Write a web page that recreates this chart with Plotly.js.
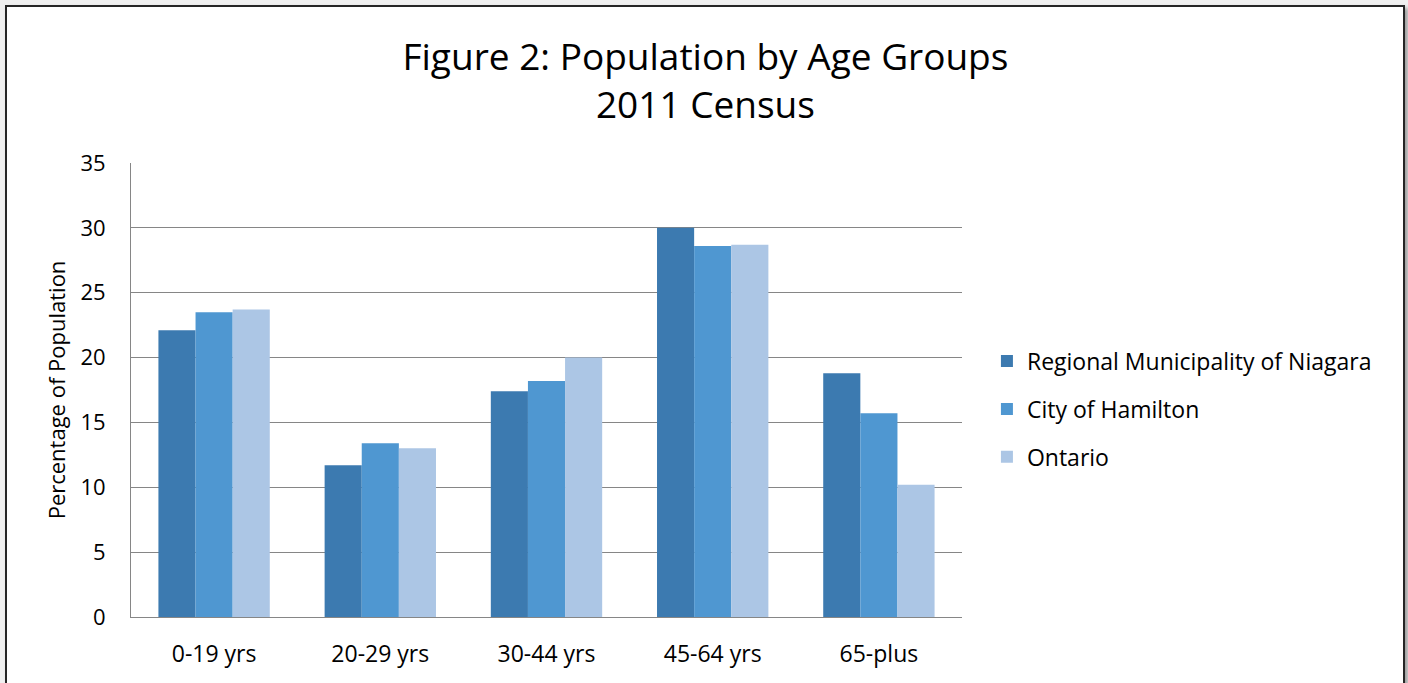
<!DOCTYPE html>
<html>
<head>
<meta charset="utf-8">
<script src="https://cdn.plot.ly/plotly-3.0.1.min.js"></script>
<style>
  html, body { margin: 0; padding: 0; background: #f0f0f0; overflow: hidden; }
  #frame { position: absolute; left: 5px; top: 5px; width: 1396px; height: 700px;
           background: #fff; border: 2px solid #262626; box-shadow: 3px 3px 4px rgba(0,0,0,0.35); }
  #chart { position: absolute; left: 0; top: 0; width: 1408px; height: 683px; }
</style>
</head>
<body>
<div id="frame"></div>
<div id="chart"></div>
<script>
const categories = ["0-19 yrs", "20-29 yrs", "30-44 yrs", "45-64 yrs", "65-plus"];
const niagara = [22.1, 11.7, 17.4, 30.0, 18.8];
const hamilton = [23.5, 13.4, 18.2, 28.6, 15.7];
const ontario = [23.7, 13.0, 20.0, 28.7, 10.2];
const seriesNames = ["Regional Municipality of Niagara", "City of Hamilton", "Ontario"];
const yTicks = [0, 5, 10, 15, 20, 25, 30, 35];

const FONT = "Open Sans, Noto Sans, sans-serif";
const colors = ["#3c7ab0", "#4f97d1", "#acc6e5"];
const seriesValues = [niagara, hamilton, ontario];

const traces = seriesValues.map((vals, i) => ({
  type: "bar",
  name: seriesNames[i],
  x: categories,
  y: vals,
  marker: { color: colors[i], line: { width: 0 } },
  legendgroup: "g" + i,
  hoverinfo: "x+y+name"
}));

const layout = {
  width: 1408,
  height: 683,
  paper_bgcolor: "rgba(0,0,0,0)",
  plot_bgcolor: "#ffffff",
  margin: { l: 131, r: 446, t: 163, b: 66, pad: 0 },
  font: { family: FONT, color: "#000" },
  title: {
    text: "Figure 2: Population by Age Groups<br>2011 Census",
    font: { family: FONT, size: 37, color: "#000" },
    x: 0.501, xanchor: "center", xref: "container",
    y: 0.898, yref: "container", yanchor: "middle"
  },
  barmode: "group",
  bargap: 0.33,
  bargroupgap: 0,
  xaxis: {
    type: "category",
    tickfont: { family: FONT, size: 23, color: "#000" },
    showgrid: false,
    showline: true, linecolor: "#868686", linewidth: 1,
    ticks: "", ticklen: 0,
    ticklabelstandoff: 16
  },
  yaxis: {
    range: [0, 35],
    tickvals: yTicks,
    tickfont: { family: FONT, size: 22, color: "#000" },
    showgrid: true, gridcolor: "#868686", gridwidth: 1,
    showline: true, linecolor: "#868686", linewidth: 1,
    zeroline: false,
    ticks: "", ticklabelstandoff: 20,
    title: { text: "Percentage of Population", font: { family: FONT, size: 22, color: "#000" }, standoff: 8 }
  },
  legend: {
    x: 1.03, xanchor: "left",
    y: 0.458, yanchor: "middle",
    font: { family: FONT, size: 23, color: "#000" },
    bgcolor: "rgba(0,0,0,0)",
    traceorder: "grouped",
    tracegroupgap: 15,
    itemwidth: 30
  },
  showlegend: true
};

Plotly.newPlot("chart", traces, layout, { displayModeBar: false, staticPlot: true });
</script>
</body>
</html>
